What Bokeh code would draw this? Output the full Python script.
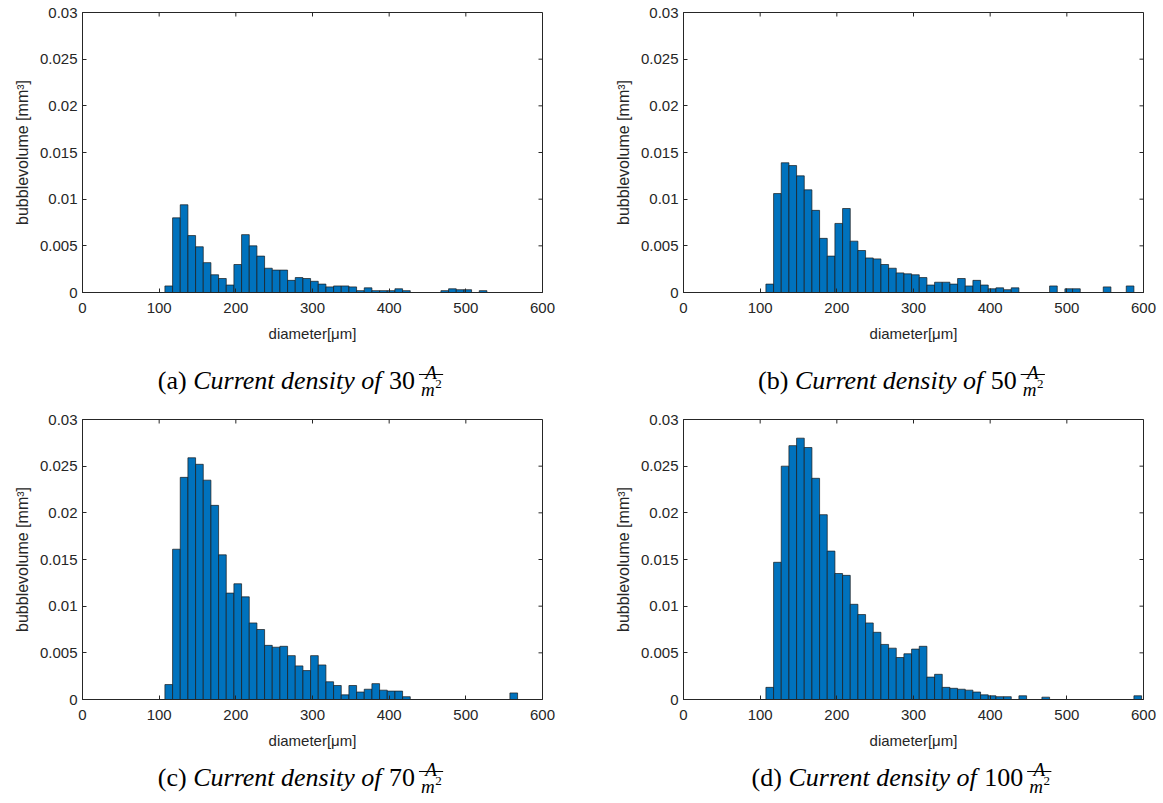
from bokeh.plotting import figure
from bokeh.layouts import column, row
from bokeh.models import Range1d, FixedTicker
from bokeh.core.properties import value
from bokeh.embed import file_html
from bokeh.resources import INLINE

# ---------------- data ----------------
bin_centers = [112.5, 122.5, 132.5, 142.5, 152.5, 162.5, 172.5, 182.5, 192.5, 202.5,
               212.5, 222.5, 232.5, 242.5, 252.5, 262.5, 272.5, 282.5, 292.5, 302.5,
               312.5, 322.5, 332.5, 342.5, 352.5, 362.5, 372.5, 382.5, 392.5, 402.5,
               412.5, 422.5, 432.5, 442.5, 452.5, 462.5, 472.5, 482.5, 492.5, 502.5,
               512.5, 522.5, 532.5, 542.5, 552.5, 562.5, 572.5, 582.5, 592.5]

vol_30 = [0.0007, 0.0080, 0.0094, 0.0061, 0.0049, 0.0032, 0.0019, 0.0015, 0.0008, 0.0030,
          0.0062, 0.0050, 0.0039, 0.0026, 0.0024, 0.0024, 0.0013, 0.0016, 0.0015, 0.0012,
          0.0009, 0.0006, 0.0007, 0.0007, 0.0006, 0.0002, 0.0005, 0.0002, 0.0002, 0.0002,
          0.0004, 0.0002, 0.0, 0.0, 0.0, 0.0, 0.0002, 0.0004, 0.0003, 0.0003,
          0.0, 0.0002]

vol_50 = [0.0009, 0.0106, 0.0139, 0.0136, 0.0125, 0.0110, 0.0088, 0.0058, 0.0039, 0.0074,
          0.0090, 0.0055, 0.0045, 0.0037, 0.0036, 0.0030, 0.0026, 0.0021, 0.0020, 0.0019,
          0.0016, 0.0008, 0.0011, 0.0011, 0.0009, 0.0015, 0.0007, 0.0013, 0.0008, 0.0004,
          0.0005, 0.0003, 0.0005, 0.0, 0.0, 0.0, 0.0, 0.0007, 0.0, 0.0004,
          0.0004, 0.0, 0.0, 0.0, 0.0006, 0.0, 0.0, 0.0007]

vol_70 = [0.0016, 0.0161, 0.0238, 0.0259, 0.0252, 0.0235, 0.0208, 0.0155, 0.0114, 0.0124,
          0.0110, 0.0082, 0.0075, 0.0058, 0.0056, 0.0057, 0.0047, 0.0036, 0.0031, 0.0047,
          0.0037, 0.0019, 0.0015, 0.0005, 0.0015, 0.0008, 0.0011, 0.0017, 0.0010, 0.0009,
          0.0009, 0.0003, 0.0, 0.0, 0.0, 0.0, 0.0, 0.0, 0.0, 0.0,
          0.0, 0.0, 0.0, 0.0, 0.0, 0.0007]

vol_100 = [0.0013, 0.0147, 0.0250, 0.0272, 0.0280, 0.0270, 0.0237, 0.0198, 0.0159, 0.0135,
           0.0133, 0.0102, 0.0091, 0.0082, 0.0072, 0.0059, 0.0055, 0.0045, 0.0049, 0.0054,
           0.0057, 0.0024, 0.0027, 0.0013, 0.0012, 0.0011, 0.0010, 0.0008, 0.0005, 0.0004,
           0.0003, 0.0003, 0.0, 0.0004, 0.0, 0.0, 0.00025, 0.0, 0.0, 0.0,
           0.0, 0.0, 0.0, 0.0, 0.0, 0.0, 0.0, 0.0, 0.0004]

x_ticks = [0, 100, 200, 300, 400, 500, 600]
y_ticks = [0, 0.005, 0.01, 0.015, 0.02, 0.025, 0.03]
y_tick_labels = ["0", "0.005", "0.01", "0.015", "0.02", "0.025", "0.03"]

panel_letters = ["(a)", "(b)", "(c)", "(d)"]
densities = ["30", "50", "70", "100"]
x_label = "diameter[\u03bcm]"
y_label = "bubblevolume [mm\u00b3]"
caption_text = "Current density of"

# ---------------- style ----------------
AX = "#262626"
BAR = "#0072BD"
SANS = "Liberation Sans"
SERIF = "Liberation Serif"
TICK_FS = 15
XLAB_FS = 15
YLAB_FS = 16
CAP_FS = 26
FRAC_FS = 19
SUP_FS = 13
FW, FH = 460, 280
X_MAX, Y_MAX = 600, 0.03
TICK_PX = 4

REG = {' ': 250, '(': 333, ')': 333, 'a': 444, 'b': 500, 'c': 444, 'd': 500,
       '0': 500, '1': 500, '2': 500, '3': 500, '5': 500, '7': 500}
ITA = {' ': 250, 'C': 667, 'u': 500, 'r': 389, 'e': 444, 'n': 500, 't': 278,
       'd': 500, 's': 389, 'i': 278, 'y': 444, 'o': 500, 'f': 278, 'A': 611, 'm': 722}


def tw(s, table, size):
    return sum(table[c] for c in s) / 1000.0 * size


def make_caption(letter, number, width, height, cx, yb):
    c = figure(width=width, height=height, x_range=Range1d(0, width), y_range=Range1d(0, height),
               x_axis_location=None, y_axis_location=None, toolbar_location=None,
               output_backend="svg", min_border=0, outline_line_color=None,
               background_fill_color="white", border_fill_color="white")
    c.grid.visible = False
    w1 = tw(letter + " ", REG, CAP_FS)
    w2 = tw(caption_text, ITA, CAP_FS)
    wsp = tw(" ", REG, CAP_FS)
    w3 = tw(number, REG, CAP_FS)
    wA = tw("A", ITA, FRAC_FS)
    wm = tw("m", ITA, FRAC_FS)
    w2s = tw("2", REG, SUP_FS)
    fw = max(wA, wm + w2s) + 4
    gap = 4
    total = w1 + w2 + wsp + w3 + gap + fw
    x0 = cx - total / 2.0
    common = dict(text_baseline="alphabetic", text_align="left", text_color="black",
                  text_font=value(SERIF))
    c.text(x=[x0, x0 + w1 + w2 + wsp], y=[yb, yb], text=[letter, number],
           text_font_size=value(f"{CAP_FS}px"), **common)
    c.text(x=[x0 + w1], y=[yb], text=[caption_text], text_font_size=value(f"{CAP_FS}px"),
           text_font_style="italic", **common)
    fx = x0 + w1 + w2 + wsp + w3 + gap
    c.text(x=[fx + (fw - wA) / 2.0], y=[yb + 8.5], text=["A"], text_font_size=value(f"{FRAC_FS}px"),
           text_font_style="italic", **common)
    mx = fx + (fw - wm - w2s) / 2.0
    c.text(x=[mx], y=[yb - 8.5], text=["m"], text_font_size=value(f"{FRAC_FS}px"),
           text_font_style="italic", **common)
    c.text(x=[mx + wm + 0.5], y=[yb - 3.5], text=["2"], text_font_size=value(f"{SUP_FS}px"), **common)
    c.segment(x0=[fx], y0=[yb + 6], x1=[fx + fw], y1=[yb + 6], line_color="black", line_width=1)
    return c


def make_panel(values, border_right):
    p = figure(frame_width=FW, frame_height=FH,
               x_range=Range1d(0, X_MAX), y_range=Range1d(0, Y_MAX),
               output_backend="svg", toolbar_location=None,
               min_border_left=82, min_border_right=border_right,
               min_border_top=12, min_border_bottom=53,
               background_fill_color="white", border_fill_color="white")
    p.vbar(x=bin_centers[:len(values)], top=values, bottom=0, width=10,
           fill_color=BAR, line_color="#1a1a1a", line_width=0.7)
    p.grid.visible = False
    p.outline_line_color = AX
    p.outline_line_width = 1

    xa = p.xaxis[0]
    xa.ticker = FixedTicker(ticks=x_ticks)
    ya = p.yaxis[0]
    ya.ticker = FixedTicker(ticks=y_ticks)
    ya.major_label_overrides = {t: l for t, l in zip(y_ticks, y_tick_labels)}
    for ax in (xa, ya):
        ax.axis_line_color = AX
        ax.major_tick_line_color = AX
        ax.major_tick_in = TICK_PX
        ax.major_tick_out = 0
        ax.minor_tick_line_color = None
        ax.major_label_text_font = SANS
        ax.major_label_text_font_size = f"{TICK_FS}px"
        ax.major_label_text_color = AX
        ax.axis_label_text_font = SANS
        ax.axis_label_text_font_style = "normal"
        ax.axis_label_text_color = AX
    xa.axis_label = x_label
    xa.axis_label_text_font_size = f"{XLAB_FS}px"
    xa.major_label_standoff = 10
    xa.axis_label_standoff = 9
    ya.axis_label = y_label
    ya.axis_label_text_font_size = f"{YLAB_FS}px"
    ya.major_label_standoff = 5
    ya.axis_label_standoff = 6

    # mirrored inward ticks on the top and right edges of the box
    dy = Y_MAX * TICK_PX / FH
    dx = X_MAX * TICK_PX / FW
    p.segment(x0=x_ticks, y0=[Y_MAX] * len(x_ticks), x1=x_ticks, y1=[Y_MAX - dy] * len(x_ticks),
              line_color=AX, line_width=1)
    p.segment(x0=[X_MAX] * len(y_ticks), y0=y_ticks, x1=[X_MAX - dx] * len(y_ticks), y1=y_ticks,
              line_color=AX, line_width=1)
    return p


pa = make_panel(vol_30, 59)
pb = make_panel(vol_50, 20)
pc = make_panel(vol_70, 59)
pd = make_panel(vol_100, 20)

ca = make_caption(panel_letters[0], densities[0], 601, 62, 300, 27)
cb = make_caption(panel_letters[1], densities[1], 562, 62, 300, 27)
cc = make_caption(panel_letters[2], densities[2], 601, 51, 300, 26)
cd = make_caption(panel_letters[3], densities[3], 562, 51, 300, 26)

layout = column(row(pa, pb, spacing=0), row(ca, cb, spacing=0),
                row(pc, pd, spacing=0), row(cc, cd, spacing=0), spacing=0)
open("out.html", "w").write(file_html(layout, INLINE))
